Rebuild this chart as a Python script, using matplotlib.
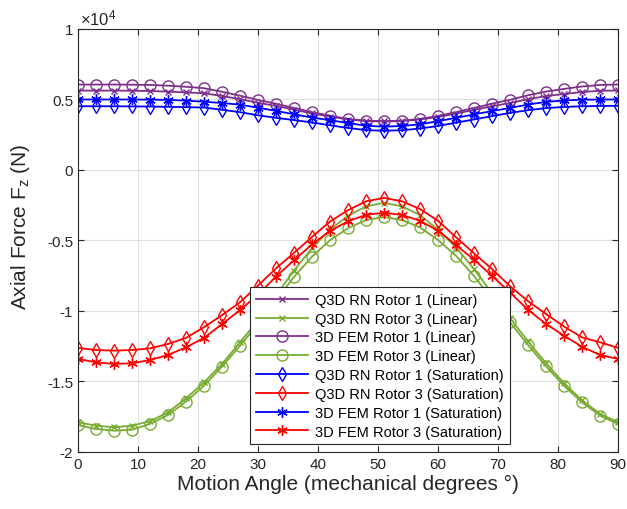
import numpy as np
import matplotlib
matplotlib.use('Agg')
import matplotlib.pyplot as plt
from matplotlib.ticker import FuncFormatter

plt.rcParams['font.family'] = ['Liberation Sans', 'DejaVu Sans']
plt.rcParams['mathtext.default'] = 'regular'

# motion angle (deg), forces in units of 1e4 N
angle = np.arange(0, 91, 3)

q3d_r1_lin = [0.563, 0.563, 0.563, 0.562, 0.560, 0.556, 0.550, 0.544, 0.525, 0.502,
              0.477, 0.454, 0.428, 0.401, 0.379, 0.358, 0.347, 0.344, 0.347, 0.358,
              0.376, 0.400, 0.426, 0.452, 0.475, 0.502, 0.524, 0.539, 0.553, 0.562, 0.564]
q3d_r3_lin = [-1.790, -1.813, -1.825, -1.813, -1.782, -1.719, -1.620, -1.506, -1.376, -1.222,
              -1.067, -0.890, -0.713, -0.555, -0.423, -0.325, -0.258, -0.233, -0.258, -0.319,
              -0.424, -0.548, -0.702, -0.875, -1.050, -1.216, -1.370, -1.512, -1.633, -1.729, -1.789]
fem_r1_lin = [0.606, 0.606, 0.606, 0.605, 0.603, 0.598, 0.590, 0.580, 0.555, 0.527,
              0.497, 0.470, 0.440, 0.410, 0.385, 0.362, 0.350, 0.346, 0.350, 0.362,
              0.383, 0.410, 0.440, 0.470, 0.498, 0.530, 0.556, 0.575, 0.592, 0.603, 0.606]
fem_r3_lin = [-1.809, -1.837, -1.849, -1.842, -1.801, -1.738, -1.643, -1.530, -1.395, -1.246,
              -1.092, -0.925, -0.758, -0.615, -0.498, -0.413, -0.355, -0.333, -0.355, -0.407,
              -0.496, -0.608, -0.752, -0.915, -1.080, -1.241, -1.392, -1.530, -1.648, -1.742, -1.801]
q3d_r1_sat = [0.452, 0.452, 0.452, 0.451, 0.450, 0.448, 0.446, 0.443, 0.427, 0.410,
              0.388, 0.370, 0.354, 0.337, 0.317, 0.298, 0.283, 0.278, 0.282, 0.294,
              0.312, 0.336, 0.358, 0.382, 0.405, 0.424, 0.439, 0.447, 0.452, 0.454, 0.455]
q3d_r3_sat = [-1.262, -1.277, -1.281, -1.277, -1.265, -1.234, -1.191, -1.115, -1.030, -0.938,
              -0.820, -0.698, -0.588, -0.475, -0.366, -0.285, -0.222, -0.198, -0.222, -0.277,
              -0.360, -0.477, -0.591, -0.702, -0.824, -0.930, -1.021, -1.110, -1.187, -1.222, -1.262]
fem_r1_sat = [0.500, 0.500, 0.500, 0.500, 0.499, 0.497, 0.492, 0.484, 0.475, 0.463,
              0.442, 0.419, 0.395, 0.372, 0.353, 0.333, 0.314, 0.307, 0.312, 0.324,
              0.346, 0.370, 0.394, 0.418, 0.440, 0.464, 0.483, 0.493, 0.498, 0.500, 0.500]
fem_r3_sat = [-1.340, -1.364, -1.376, -1.371, -1.348, -1.312, -1.258, -1.191, -1.093, -0.994,
              -0.884, -0.756, -0.640, -0.528, -0.432, -0.364, -0.318, -0.303, -0.319, -0.360,
              -0.430, -0.532, -0.636, -0.750, -0.869, -0.991, -1.092, -1.175, -1.253, -1.312, -1.340]

purple = '#7E2F8E'
green = '#77AC30'
star = (6, 2, 0)

fig = plt.figure(figsize=(6.27, 5.1), dpi=100)
ax = fig.add_axes([0.1244, 0.1118, 0.8612, 0.8294])

lw = 1.3
ax.plot(angle, np.array(q3d_r1_lin) * 1e4, '-', color=purple, marker='x', ms=5, lw=lw, label='Q3D RN Rotor 1 (Linear)')
ax.plot(angle, np.array(q3d_r3_lin) * 1e4, '-', color=green, marker='x', ms=5, lw=lw, label='Q3D RN Rotor 3 (Linear)')
ax.plot(angle, np.array(fem_r1_lin) * 1e4, '-', color=purple, marker='o', ms=8, mfc='none', lw=lw, label='3D FEM Rotor 1 (Linear)')
ax.plot(angle, np.array(fem_r3_lin) * 1e4, '-', color=green, marker='o', ms=8, mfc='none', lw=lw, label='3D FEM Rotor 3 (Linear)')
ax.plot(angle, np.array(q3d_r1_sat) * 1e4, '-', color='b', marker='d', ms=7.5, mfc='none', lw=lw, label='Q3D RN Rotor 1 (Saturation)')
ax.plot(angle, np.array(q3d_r3_sat) * 1e4, '-', color='r', marker='d', ms=7.5, mfc='none', lw=lw, label='Q3D RN Rotor 3 (Saturation)')
ax.plot(angle, np.array(fem_r1_sat) * 1e4, '-', color='b', marker=star, ms=7.5, lw=lw, label='3D FEM Rotor 1 (Saturation)')
ax.plot(angle, np.array(fem_r3_sat) * 1e4, '-', color='r', marker=star, ms=7.5, lw=lw, label='3D FEM Rotor 3 (Saturation)')

ax.set_xlim(0, 90)
ax.set_ylim(-2e4, 1e4)
ax.set_xticks(np.arange(0, 91, 10))
ax.set_yticks(np.arange(-2e4, 1.01e4, 0.5e4))
ax.yaxis.set_major_formatter(FuncFormatter(lambda v, p: '%g' % (v / 1e4)))
ax.text(0.003, 1.012, r'$\times10^{4}$', transform=ax.transAxes, fontsize=12, color='#262626')

ax.grid(True, color='#000000', alpha=0.12, lw=0.8)
ax.tick_params(direction='in', top=True, right=True, labelsize=11, colors='#262626', length=4)
for s in ax.spines.values():
    s.set_color('#262626')
    s.set_linewidth(0.8)

ax.set_xlabel('Motion Angle (mechanical degrees °)', fontsize=15, color='#262626', labelpad=2)
ax.set_ylabel('Axial Force F$_z$ (N)', fontsize=15, color='#262626')
ax.yaxis.set_label_coords(-0.085, 0.535)

leg = ax.legend(loc='lower left', bbox_to_anchor=(0.318, 0.018), fontsize=10.5,
                handlelength=3.6, fancybox=False, framealpha=1, edgecolor='#262626',
                borderpad=0.4, labelspacing=0.33, handletextpad=0.5, borderaxespad=0)
leg.get_frame().set_linewidth(0.8)

fig.savefig('out.png', dpi=100)
